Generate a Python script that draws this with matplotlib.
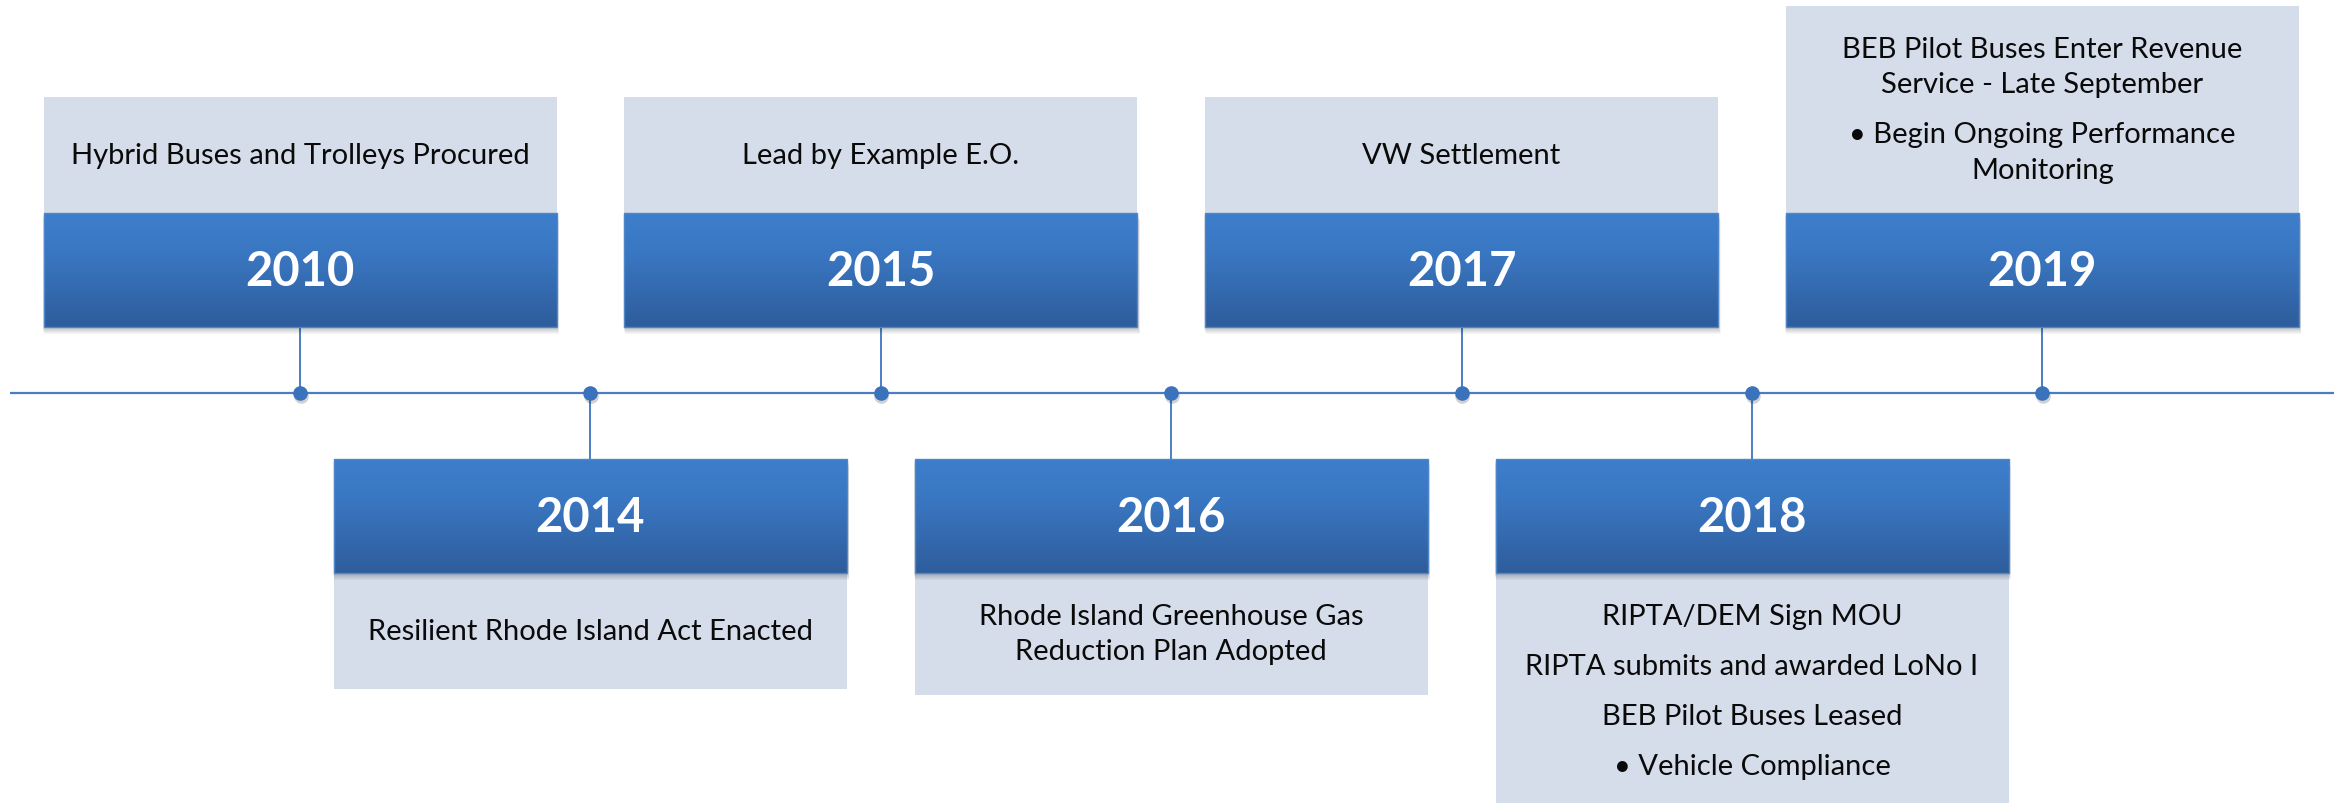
import numpy as np
import matplotlib
matplotlib.use("Agg")
import matplotlib.pyplot as plt
from matplotlib.patches import Rectangle
from matplotlib.colors import LinearSegmentedColormap

# timeline content
years = ["2010", "2014", "2015", "2016", "2017", "2018", "2019"]
# each event: list of paragraphs, each paragraph a list of lines
events = [
    [["Hybrid Buses and Trolleys Procured"]],
    [["Resilient Rhode Island Act Enacted"]],
    [["Lead by Example E.O."]],
    [["Rhode Island Greenhouse Gas", "Reduction Plan Adopted"]],
    [["VW Settlement"]],
    [["RIPTA/DEM Sign MOU"], ["RIPTA submits and awarded LoNo I"],
     ["BEB Pilot Buses Leased"], ["\u2022 Vehicle Compliance"]],
    [["BEB Pilot Buses Enter Revenue", "Service - Late September"],
     ["\u2022 Begin Ongoing Performance", "Monitoring"]],
]

W, H = 2343, 804
fig = plt.figure(figsize=(W / 100, H / 100), dpi=100)
ax = fig.add_axes([0, 0, 1, 1])
ax.set_xlim(0, W)
ax.set_ylim(H, 0)
ax.axis("off")

font = "Lato"
line_col = "#4A7EC4"
dot_col = "#3A72BC"
light_col = "#D5DCEA"
blue_cmap = LinearSegmentedColormap.from_list(
    "blue", [(0, "#3D7ECB"), (0.35, "#3A77C2"), (1, "#2E5D9C")])

x0, step = 300, 290.4
axis_y = 394
box_w = 513
blue_h = 114
gap = 66
line_sp, para_sp = 35, 50
pad = 52
min_light = 116

# main axis line
ax.plot([10, 2334], [axis_y, axis_y], color=line_col, lw=1.6, zorder=2,
        solid_capstyle="butt")

for i, (yr, ev) in enumerate(zip(years, events)):
    xc = x0 + i * step
    up = (i % 2 == 0)
    left = xc - box_w / 2
    if up:
        b_top = axis_y - gap - blue_h
    else:
        b_top = axis_y + gap
    b_bot = b_top + blue_h

    # text line offsets
    offs = []
    y = 0
    for p, para in enumerate(ev):
        if p > 0:
            y += para_sp
        for k, ln in enumerate(para):
            if k > 0:
                y += line_sp
            offs.append((y, ln))
    span = offs[-1][0]
    light_h = max(min_light, span + line_sp + pad)
    if up:
        l_top, l_bot = b_top - light_h, b_top
    else:
        l_top, l_bot = b_bot, b_bot + light_h

    # light description box
    ax.add_patch(Rectangle((left, l_top), box_w, light_h, facecolor=light_col,
                           edgecolor="none", zorder=1))
    lc = (l_top + l_bot) / 2
    for oy, ln in offs:
        ax.text(xc, lc - span / 2 + oy, ln, ha="center", va="center",
                fontsize=21, family=font, color="#0A0A0A", zorder=5)

    # connector
    if up:
        ax.plot([xc, xc], [b_bot, axis_y], color=line_col, lw=1.4, zorder=2)
    else:
        ax.plot([xc, xc], [axis_y, b_top], color=line_col, lw=1.4, zorder=2)

    # soft shadow under the blue box
    for s in range(6):
        ax.add_patch(Rectangle((left - 1 + s * 0.3, b_top + 2 + s), box_w + 2, blue_h,
                               facecolor="#000000", alpha=0.035, edgecolor="none",
                               zorder=2.5))
    # blue gradient box
    grad = np.linspace(0, 1, 64).reshape(-1, 1)
    ax.imshow(grad, cmap=blue_cmap, aspect="auto", interpolation="bicubic",
              extent=(left, left + box_w, b_bot, b_top), zorder=3)
    ax.add_patch(Rectangle((left, b_top), box_w, blue_h, facecolor="none",
                           edgecolor="#4F86C9", lw=1.0, zorder=3.5))
    ax.text(xc, (b_top + b_bot) / 2 + 1, yr, ha="center", va="center",
            fontsize=34, fontweight="bold", family=font, color="white", zorder=5)

    # dot on the axis
    ax.plot(xc + 0.5, axis_y + 2.5, "o", ms=10.5, color="#000000", alpha=0.18,
            mec="none", zorder=3)
    ax.plot(xc, axis_y, "o", ms=10.5, color=dot_col, mec="none", zorder=4)

ax.set_xlim(0, W)
ax.set_ylim(H, 0)
fig.savefig("out.png", dpi=100, facecolor="white")
